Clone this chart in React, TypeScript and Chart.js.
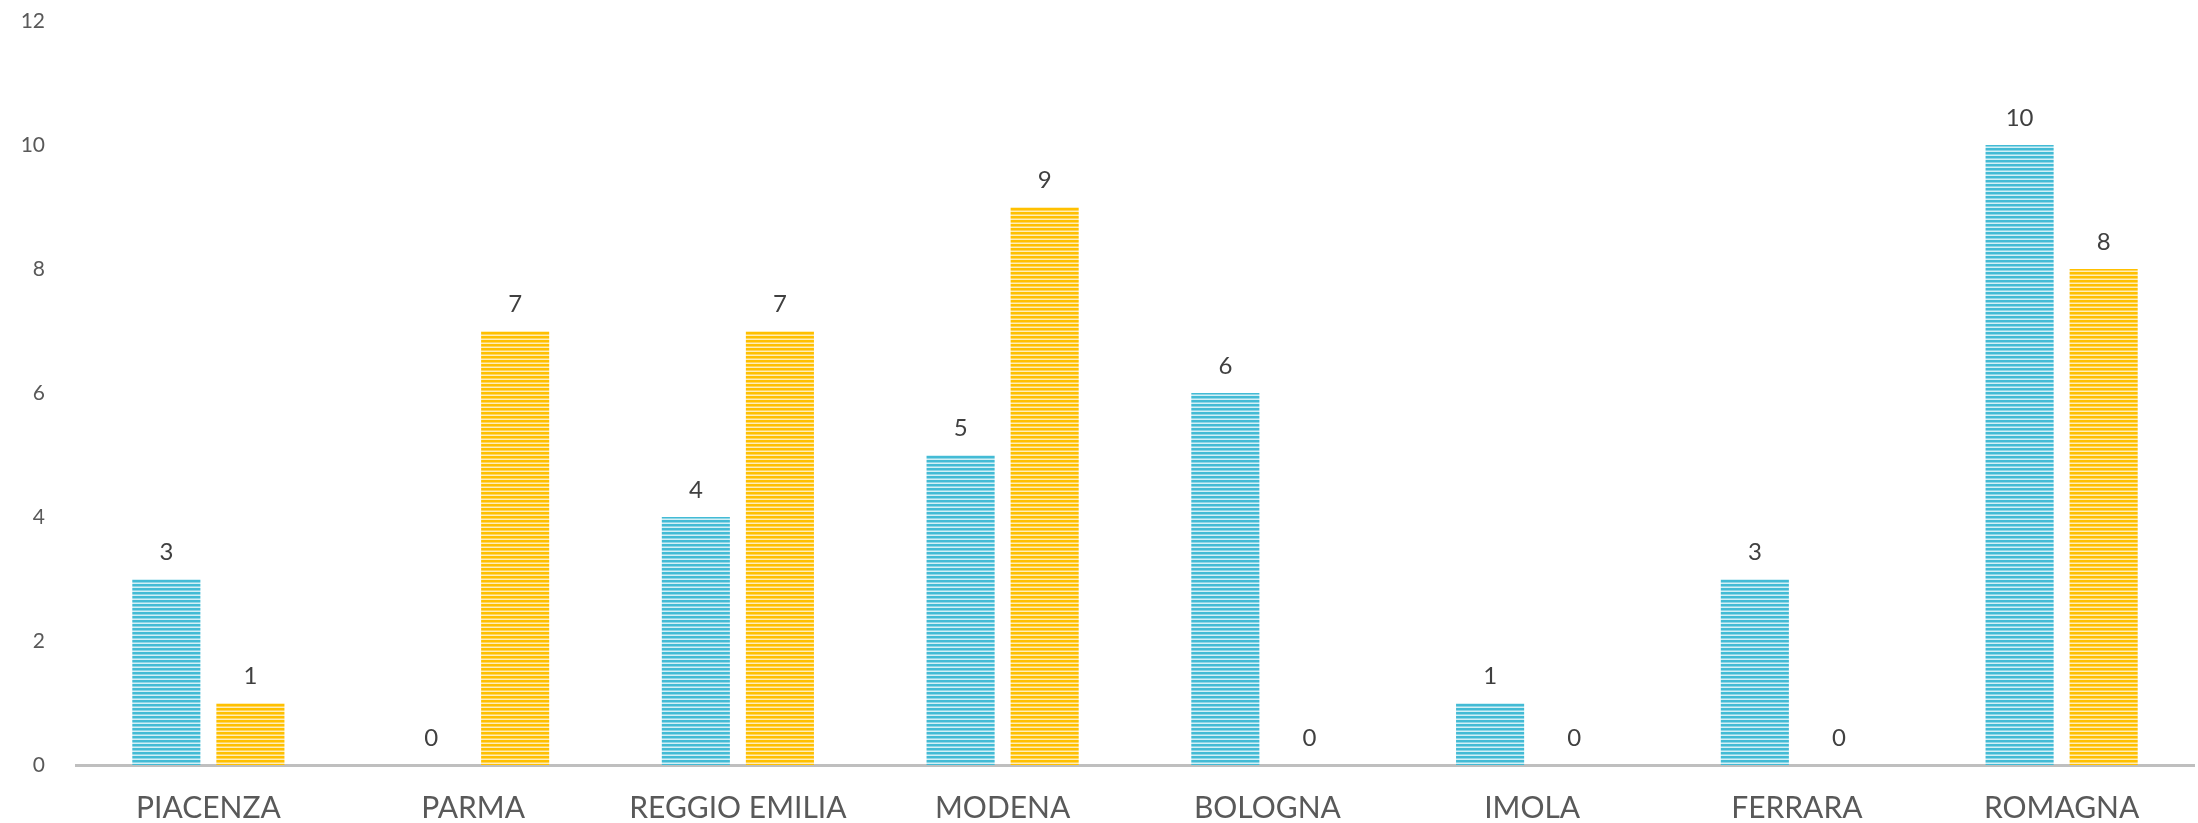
import React, { useEffect, useRef } from "react";
import { Chart, registerables } from "chart.js";

Chart.register(...registerables);

const categories = ["PIACENZA", "PARMA", "REGGIO EMILIA", "MODENA", "BOLOGNA", "IMOLA", "FERRARA", "ROMAGNA"];
const seriesBlue = [3, 0, 4, 5, 6, 1, 3, 10];
const seriesYellow = [1, 7, 7, 9, 0, 0, 0, 8];
const yTicks = [0, 2, 4, 6, 8, 10, 12];

const FONT = "Lato, 'Open Sans', sans-serif";

function makePattern(dark: string, mid: string, light: string) {
  const c = document.createElement("canvas");
  c.width = 4;
  c.height = 4;
  const ctx = c.getContext("2d")!;
  ctx.fillStyle = dark;
  ctx.fillRect(0, 0, 4, 2);
  ctx.fillStyle = mid;
  ctx.fillRect(0, 2, 4, 1);
  ctx.fillStyle = light;
  ctx.fillRect(0, 3, 4, 1);
  return ctx.createPattern(c, "repeat");
}

const valueLabels = {
  id: "valueLabels",
  afterDatasetsDraw(chart: any) {
    const ctx = chart.ctx;
    ctx.save();
    ctx.font = `24px ${FONT}`;
    ctx.fillStyle = "#404040";
    ctx.textAlign = "center";
    ctx.textBaseline = "middle";
    chart.data.datasets.forEach((ds: any, i: number) => {
      const meta = chart.getDatasetMeta(i);
      meta.data.forEach((bar: any, j: number) => {
        ctx.fillText(String(ds.data[j]), bar.x, bar.y - 27);
      });
    });
    ctx.restore();
  },
};

export default function App() {
  const ref = useRef<HTMLCanvasElement>(null);
  useEffect(() => {
    document.body.style.margin = "0";
    const blue = makePattern("#43bbd5", "#8fd6e6", "#d3f0f6");
    const yellow = makePattern("#ffc000", "#ffd55c", "#ffeeb8");
    const chart = new Chart(ref.current!, {
      type: "bar",
      data: {
        labels: categories,
        datasets: [
          { data: seriesBlue, backgroundColor: blue as any, categoryPercentage: 0.635, barPercentage: 0.81 },
          { data: seriesYellow, backgroundColor: yellow as any, categoryPercentage: 0.635, barPercentage: 0.81 },
        ],
      },
      plugins: [valueLabels],
      options: {
        animation: false,
        responsive: false,
        layout: { padding: { top: 21, right: 4, left: 0, bottom: 0 } },
        plugins: { legend: { display: false }, tooltip: { enabled: false } },
        scales: {
          x: {
            grid: { display: false, drawTicks: false },
            border: { display: true, color: "#bfbfbf", width: 3 },
            ticks: { color: "#595959", font: { family: FONT, size: 30 }, padding: 25, maxRotation: 0, autoSkip: false },
            afterFit: (s: any) => { s.height = 58; },
          },
          y: {
            min: 0,
            max: 12,
            afterBuildTicks: (s: any) => { s.ticks = yTicks.map((v) => ({ value: v })); },
            grid: { display: false, drawTicks: false },
            border: { display: false },
            ticks: { color: "#595959", font: { family: FONT, size: 21 }, padding: 31 },
            afterFit: (s: any) => { s.width = 76; s.paddingTop = 0; s.paddingBottom = 0; },
          },
        },
      },
    });
    return () => chart.destroy();
  }, []);
  return (
    <div style={{ width: 2198, height: 823 }}>
      <canvas ref={ref} width={2198} height={823} style={{ display: "block" }} />
    </div>
  );
}
